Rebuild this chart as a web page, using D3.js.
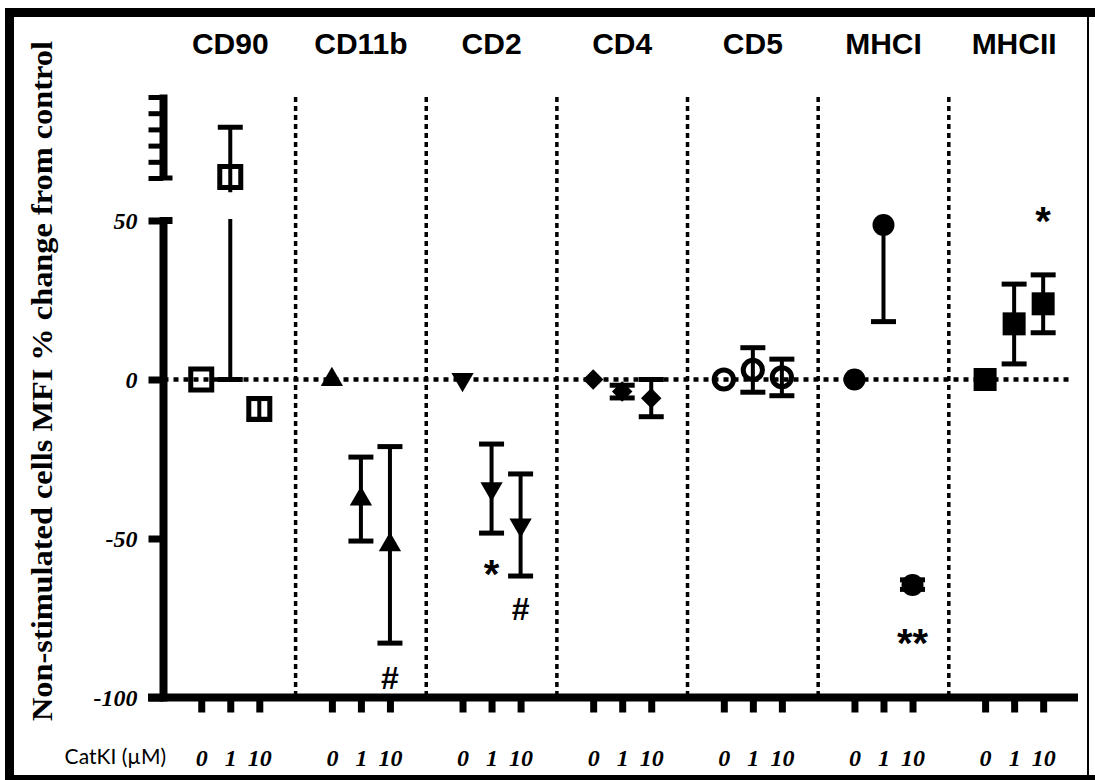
<!DOCTYPE html>
<html>
<head>
<meta charset="utf-8">
<script src="https://cdn.jsdelivr.net/npm/d3@7"></script>
<style>
body { margin: 0; background: #fff; }
svg { display: block; }
.title { font-family: "Liberation Sans", Arial, sans-serif; font-weight: bold; font-size: 30px; }
.sig { font-family: "Liberation Sans", Arial, sans-serif; font-weight: bold; }
</style>
</head>
<body>
<div id="chart"></div>
<script>
/////////////////////////////////////////////////////////////////////
// data (% change of MFI from control)

const markers = ["CD90", "CD11b", "CD2", "CD4", "CD5", "MHCI", "MHCII"];
const doses = ["0", "1", "10"];

// mean for doses 0, 1, 10 uM
const means = [
    [0, 65.3, -9.3],
    [0, -37.6, -52.0],
    [0, -34.3, -45.7],
    [0, -3.8, -5.9],
    [0, 3.0, 0.7],
    [0, 48.6, -64.6],
    [0, 17.5, 23.8]
];
// lower / upper end of the error bars
const errLow = [
    [0, 0, -12.5],
    [0, -50.8, -82.9],
    [0, -48.3, -61.8],
    [0, -5.8, -11.7],
    [0, -4.0, -5.1],
    [0, 18.2, -66.0],
    [0, 4.9, 14.7]
];
const errHigh = [
    [0, 80.7, -6.0],
    [0, -24.4, -21.1],
    [0, -20.3, -29.7],
    [0, -1.8, 0],
    [0, 10.0, 6.4],
    [0, 48.6, -63.0],
    [0, 30.0, 32.9]
];

const yTicks = [-100, -50, 0, 50];
const yTicksUpper = [65, 70, 75, 80, 85, 90];

// significance marks: marker index, dose index, label, value where it sits
const sigMarks = [
    {m: 1, d: 2, label: "#", v: -93.6},
    {m: 2, d: 1, label: "*", v: -57.7},
    {m: 2, d: 2, label: "#", v: -71.9},
    {m: 5, d: 2, label: "**", v: -79.4},
    {m: 6, d: 2, label: "*", v: 53.7}
];

/////////////////////////////////////////////////////////////////////

const W = 1095, H = 780;
const svg = d3.select("#chart").append("svg")
    .attr("width", W)
    .attr("height", H);

svg.append("rect").attr("width", W).attr("height", H).attr("fill", "#fff");

// group g, dose d sit at g*4.5 + d
const pos = (g, d) => g * 4.5 + d;
const xScale = d3.scaleLinear([-1.3, 30.2], [163.5, 1078]);
// broken axis: lower part -100..50, upper part 65..90
const yScale = d3.scaleLinear([-100, 50, 65, 90], [697.5, 220.5, 178, 97]);
const axisX = xScale(-1.3);
const axisY = yScale(-100);

const tickFont = text => text
    .style("font-family", "'Liberation Serif', 'DejaVu Serif', serif")
    .style("font-weight", "bold")
    .style("font-style", "italic")
    .style("font-size", "24px")
    .attr("fill", "#000");

// outer frame
svg.append("rect").attr("x", 5).attr("y", 8).attr("width", W - 5).attr("height", 9);
svg.append("rect").attr("x", 5).attr("y", 8).attr("width", 9).attr("height", H - 8);
svg.append("rect").attr("x", 5).attr("y", 775).attr("width", W - 5).attr("height", 5);
svg.append("rect").attr("x", 1087).attr("y", 8).attr("width", 2).attr("height", H - 8);

// dotted separators between markers
for (let g = 1; g < markers.length; g++) {
    const sx = (xScale(pos(g - 1, 2)) + xScale(pos(g, 0))) / 2;
    svg.append("line")
        .attr("x1", sx).attr("x2", sx)
        .attr("y1", yScale(90)).attr("y2", axisY)
        .attr("stroke", "#000")
        .attr("stroke-width", 3.5)
        .attr("stroke-dasharray", "5 4");
};

// dotted zero line
svg.append("line")
    .attr("x1", axisX).attr("x2", 1072)
    .attr("y1", yScale(0)).attr("y2", yScale(0))
    .attr("stroke", "#000")
    .attr("stroke-width", 4.5)
    .attr("stroke-dasharray", "5 5");

// y axis, lower segment
const yAxis = svg.append("g")
    .attr("transform", `translate(${axisX},0)`)
    .call(d3.axisLeft(yScale).tickValues(yTicks).tickSize(15).tickPadding(11)
        .tickFormat(d => String(d)));
yAxis.select(".domain").remove();
yAxis.selectAll(".tick line").attr("stroke-width", 7);
yAxis.selectAll(".tick text").call(tickFont);
yAxis.append("line")
    .attr("y1", yScale(-100) + 4).attr("y2", yScale(50) - 3.5)
    .attr("stroke", "#000").attr("stroke-width", 8);

// y axis, upper segment
const yAxisUp = svg.append("g")
    .attr("transform", `translate(${axisX},0)`)
    .call(d3.axisLeft(yScale).tickValues(yTicksUpper).tickSize(15).tickFormat(""));
yAxisUp.select(".domain").remove();
yAxisUp.selectAll(".tick line").attr("stroke-width", 5);
yAxisUp.append("line")
    .attr("y1", yScale(65) + 2).attr("y2", yScale(90) - 2.5)
    .attr("stroke", "#000").attr("stroke-width", 8);

// break marks poke out right of the axis
[50, 65].forEach(v => {
    svg.append("line")
        .attr("x1", axisX).attr("x2", axisX + 9)
        .attr("y1", yScale(v)).attr("y2", yScale(v))
        .attr("stroke", "#000").attr("stroke-width", v == 50 ? 7 : 5);
});

// x axis
const xVals = [];
markers.forEach((m, g) => doses.forEach((d, i) => xVals.push(pos(g, i))));
const xAxis = svg.append("g")
    .attr("transform", `translate(0,${axisY})`)
    .call(d3.axisBottom(xScale).tickValues(xVals).tickSize(15).tickPadding(36)
        .tickFormat((d, i) => doses[i % 3]));
xAxis.select(".domain").remove();
xAxis.selectAll(".tick line").attr("stroke-width", 7);
xAxis.selectAll(".tick text").call(tickFont);
svg.append("line")
    .attr("x1", 148).attr("x2", 1078)
    .attr("y1", axisY).attr("y2", axisY)
    .attr("stroke", "#000").attr("stroke-width", 8);

svg.append("text")
    .text("CatKI (\u00b5M)")
    .attr("x", 166).attr("y", 764)
    .attr("text-anchor", "end")
    .attr("font-family", "Lato, 'Open Sans', sans-serif")
    .attr("font-size", 21);

// y axis title
svg.append("text")
    .text("Non-stimulated cells MFI % change  from control")
    .attr("transform", "translate(52,381) rotate(-90)")
    .attr("text-anchor", "middle")
    .attr("textLength", 680)
    .attr("lengthAdjust", "spacingAndGlyphs")
    .attr("font-family", "'Liberation Serif', 'DejaVu Serif', serif")
    .attr("font-weight", "bold")
    .attr("font-size", 29);

// marker titles
markers.forEach((m, g) => {
    svg.append("text")
        .text(m)
        .attr("x", xScale(pos(g, 1)))
        .attr("y", 54)
        .attr("text-anchor", "middle")
        .attr("class", "title");
});

// error bars, cut where the axis is broken
const clip = svg.append("clipPath").attr("id", "gapclip");
clip.append("rect").attr("x", 0).attr("y", 0).attr("width", W).attr("height", yScale(60));
clip.append("rect").attr("x", 0).attr("y", yScale(50.5)).attr("width", W).attr("height", H);

const bars = svg.append("g").attr("clip-path", "url(#gapclip)");
const capW = 12.5;
markers.forEach((m, g) => {
    doses.forEach((d, i) => {
        const lo = errLow[g][i], hi = errHigh[g][i], mu = means[g][i];
        if (lo == hi) return;
        const cx = xScale(pos(g, i));
        bars.append("line")
            .attr("x1", cx).attr("x2", cx)
            .attr("y1", yScale(lo)).attr("y2", yScale(hi))
            .attr("stroke", "#000").attr("stroke-width", 4);
        [lo, hi].forEach(v => {
            if (v == mu) return;
            bars.append("line")
                .attr("x1", cx - capW).attr("x2", cx + capW)
                .attr("y1", yScale(v)).attr("y2", yScale(v))
                .attr("stroke", "#000").attr("stroke-width", 5);
        });
    });
});

// symbols
const symType = [d3.symbolSquare, d3.symbolTriangle, d3.symbolTriangle, d3.symbolSquare,
                 d3.symbolCircle, d3.symbolCircle, d3.symbolSquare];
const symSize = [441, 215, 215, 210, 290, 380, 529];
const symRot = [0, 0, 180, 45, 0, 0, 0];
const symOpen = [true, false, false, false, true, false, false];

markers.forEach((m, g) => {
    const sym = d3.symbol().type(symType[g]).size(symSize[g]);
    doses.forEach((d, i) => {
        svg.append("path")
            .attr("d", sym())
            .attr("transform", `translate(${xScale(pos(g, i))},${yScale(means[g][i])}) rotate(${symRot[g]})`)
            .attr("fill", symOpen[g] ? "none" : "#000")
            .attr("stroke", "#000")
            .attr("stroke-width", symOpen[g] ? 5 : 0);
    });
});

// significance labels
sigMarks.forEach(s => {
    svg.append("text")
        .text(s.label)
        .attr("x", xScale(pos(s.m, s.d)))
        .attr("y", yScale(s.v))
        .attr("dy", s.label == "#" ? "0.36em" : "0.62em")
        .attr("text-anchor", "middle")
        .attr("font-size", s.label == "#" ? 32 : 40)
        .attr("class", "sig");
});
</script>
</body>
</html>
